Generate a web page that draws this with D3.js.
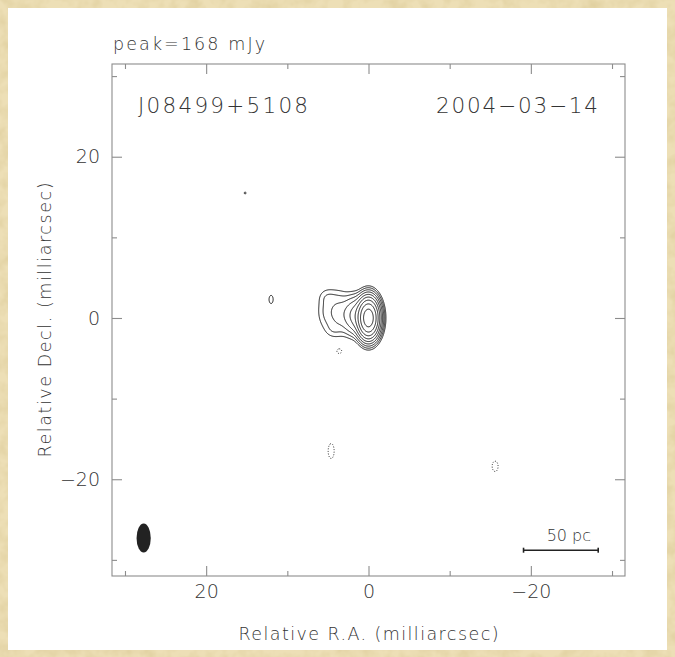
<!DOCTYPE html>
<html>
<head>
<meta charset="utf-8">
<script src="https://cdn.jsdelivr.net/npm/d3@7"></script>
<style>
  body { margin: 0; background: #fff; }
  svg { display: block; }
  text { font-family: "DejaVu Sans", "Liberation Sans", sans-serif; font-weight: 200; fill: #333; }
</style>
</head>
<body>
<svg id="chart" width="675" height="657"></svg>
<script>
// ---- Map annotation ----
const sourceName = "J08499+5108";
const epochLabel = "2004−03−14";
const peakLabel = "peak=168 mJy";
const xAxisTitle = "Relative R.A. (milliarcsec)";
const yAxisTitle = "Relative Decl. (milliarcsec)";

// ---- Axes (milliarcsec) ----
const xExtent = [31.6, -31.6];       // R.A. increases to the left
const yExtent = [31.5, -32.0];
const majorTicks = [20, 0, -20];
const minorTicks = [30, 10, -10, -30];
const tickLabels = ["20", "0", "−20"];

// ---- Contour levels (fraction of peak) ----
const contourLevels = [0.0025, 0.005, 0.01, 0.02, 0.04, 0.08, 0.16, 0.32, 0.64];
const negativeLevels = [-0.0025];

// ---- Brightness components: offset (mas), amplitude (fraction of peak), Gaussian widths (mas) ----
const compX   = [0,    1.6,  3.6,   5.2,    5.0,    4.4,    12.0,   15.2,   4.6,     -15.6,   3.6];
const compY   = [0,    0.3,  0.6,   0.9,    2.6,    -1.5,   2.3,    15.5,   -16.5,   -18.4,   -4.1];
const compAmp = [1.0,  0.05, 0.012, 0.0045, 0.0022, 0.0018, 0.0032, 0.0027, -0.0035, -0.0032, -0.0034];
const compSx  = [0.62, 0.8,  0.9,   0.8,    0.7,    0.6,    0.36,   0.3,    0.45,    0.52,    0.4];
const compSy  = [1.15, 1.2,  1.5,   1.6,    0.6,    0.6,    0.72,   0.3,    1.13,    0.91,    0.4];

// ---- Restoring beam (mas) ----
const beamX = 27.7, beamY = -27.3, beamMajor = 3.6, beamMinor = 1.75;

// ---- Linear scale bar ----
const scaleBarLabel = "50 pc";
const scaleBarFrom = -19.1, scaleBarTo = -28.3, scaleBarDec = -28.8;

// ---------------------------------------------------------------
const W = 675, H = 657;
const plot = { left: 112, right: 625, top: 64, bottom: 576 };
const svg = d3.select("#chart");

const x = d3.scaleLinear().domain(xExtent).range([plot.left, plot.right]);
const y = d3.scaleLinear().domain(yExtent).range([plot.top, plot.bottom]);

// Parchment surround and white sheet
const defs = svg.append("defs");
const f = defs.append("filter").attr("id", "grain")
  .attr("x", 0).attr("y", 0).attr("width", "100%").attr("height", "100%");
f.append("feTurbulence").attr("type", "fractalNoise").attr("baseFrequency", 0.07)
  .attr("numOctaves", 3).attr("seed", 7);
f.append("feColorMatrix").attr("type", "matrix")
  .attr("values", "0 0 0 0 0.70  0 0 0 0 0.58  0 0 0 0 0.30  0 0 0 1.1 -0.38");
defs.append("clipPath").attr("id", "plotClip").append("rect")
  .attr("x", plot.left).attr("y", plot.top)
  .attr("width", plot.right - plot.left).attr("height", plot.bottom - plot.top);

svg.append("rect").attr("width", W).attr("height", H).attr("fill", "#eddfb6");
svg.append("rect").attr("width", W).attr("height", H).attr("filter", "url(#grain)");
svg.append("rect").attr("x", 8).attr("y", 8).attr("width", 659).attr("height", 642).attr("fill", "#fff");

// Brightness grid built from the components
const step = 0.08;
const gx0 = xExtent[1], gy0 = yExtent[1];
const nx = Math.ceil((xExtent[0] - xExtent[1]) / step) + 1;
const ny = Math.ceil((yExtent[0] - yExtent[1]) / step) + 1;
const field = new Float64Array(nx * ny);
compX.forEach((cx, k) => {
  const cy = compY[k], sx = compSx[k], sy = compSy[k], a = compAmp[k];
  const i0 = Math.max(0, Math.floor((cx - 7 * sx - gx0) / step));
  const i1 = Math.min(nx - 1, Math.ceil((cx + 7 * sx - gx0) / step));
  const j0 = Math.max(0, Math.floor((cy - 7 * sy - gy0) / step));
  const j1 = Math.min(ny - 1, Math.ceil((cy + 7 * sy - gy0) / step));
  for (let j = j0; j <= j1; j++) {
    const dy = (gy0 + j * step - cy) / sy;
    for (let i = i0; i <= i1; i++) {
      const dx = (gx0 + i * step - cx) / sx;
      field[j * nx + i] += a * Math.exp(-0.5 * (dx * dx + dy * dy));
    }
  }
});

// Grid coordinates -> sky offsets -> pixels
const gridToPx = d3.geoTransform({
  point(gx, gy) {
    this.stream.point(x(gx0 + (gx - 0.5) * step), y(gy0 + (gy - 0.5) * step));
  }
});
const path = d3.geoPath(gridToPx);

const posContours = d3.contours().size([nx, ny]).thresholds(contourLevels)(field);
const negField = field.map(v => -v);
const negContours = d3.contours().size([nx, ny]).thresholds(negativeLevels.map(v => -v))(negField);

const gMap = svg.append("g").attr("clip-path", "url(#plotClip)");
gMap.selectAll("path.pos").data(posContours).join("path")
  .attr("class", "pos").attr("d", path)
  .attr("fill", "none").attr("stroke", "#1c1c1c").attr("stroke-width", 1)
  .attr("stroke-linejoin", "round");
gMap.selectAll("path.neg").data(negContours).join("path")
  .attr("class", "neg").attr("d", path)
  .attr("fill", "none").attr("stroke", "#2a2a2a").attr("stroke-width", 1)
  .attr("stroke-dasharray", "1,1.6");

// Restoring beam
gMap.append("ellipse")
  .attr("cx", x(beamX)).attr("cy", y(beamY))
  .attr("rx", Math.abs(x(beamMinor / 2) - x(0)))
  .attr("ry", Math.abs(y(beamMajor / 2) - y(0)))
  .attr("fill", "#222");

// Scale bar
const sb = svg.append("g").attr("stroke", "#222").attr("stroke-width", 1.6);
sb.append("line").attr("x1", x(scaleBarFrom)).attr("x2", x(scaleBarTo))
  .attr("y1", y(scaleBarDec)).attr("y2", y(scaleBarDec));
[scaleBarFrom, scaleBarTo].forEach(v => sb.append("line")
  .attr("x1", x(v)).attr("x2", x(v))
  .attr("y1", y(scaleBarDec) - 2.5).attr("y2", y(scaleBarDec) + 2.5));
svg.append("text")
  .attr("x", (x(scaleBarFrom) + x(scaleBarTo)) / 2 + 8).attr("y", y(scaleBarDec) - 9)
  .attr("text-anchor", "middle").attr("font-size", 16).text(scaleBarLabel);

// Frame
svg.append("rect")
  .attr("x", plot.left).attr("y", plot.top)
  .attr("width", plot.right - plot.left).attr("height", plot.bottom - plot.top)
  .attr("fill", "none").attr("stroke", "#8c8c8c").attr("stroke-width", 1.1);

// Inward ticks on all four sides
const fmt = d => tickLabels[majorTicks.indexOf(d)];
function ticks(axisFn, scale, values, len, tx, ty, labelled, pad) {
  const ax = axisFn(scale).tickValues(values).tickSizeInner(-len).tickSizeOuter(0)
    .tickPadding(pad || 0).tickFormat(labelled ? fmt : "");
  const g = svg.append("g").attr("transform", `translate(${tx},${ty})`).call(ax);
  g.select(".domain").remove();
  g.attr("font-family", null);
  g.selectAll("line").attr("stroke", "#8c8c8c").attr("stroke-width", 1.1);
  g.selectAll("text").attr("font-size", 19).attr("fill", "#333");
  return g;
}
ticks(d3.axisBottom, x, majorTicks, 10, 0, plot.bottom, true, 9);
ticks(d3.axisBottom, x, minorTicks, 5, 0, plot.bottom, false);
ticks(d3.axisTop, x, majorTicks, 10, 0, plot.top, false);
ticks(d3.axisTop, x, minorTicks, 5, 0, plot.top, false);
ticks(d3.axisLeft, y, majorTicks, 10, plot.left, 0, true, 12);
ticks(d3.axisLeft, y, minorTicks, 5, plot.left, 0, false);
ticks(d3.axisRight, y, majorTicks, 10, plot.right, 0, false);
ticks(d3.axisRight, y, minorTicks, 5, plot.right, 0, false);

// Labels
svg.append("text").attr("x", 113).attr("y", 49.5).attr("font-size", 17.5)
  .attr("textLength", 152).attr("lengthAdjust", "spacing").text(peakLabel);
svg.append("text").attr("x", 138).attr("y", 113).attr("font-size", 21.5)
  .attr("textLength", 170).attr("lengthAdjust", "spacing").text(sourceName);
svg.append("text").attr("x", 436).attr("y", 113).attr("font-size", 21.5)
  .attr("textLength", 162).attr("lengthAdjust", "spacing").text(epochLabel);
svg.append("text").attr("x", (plot.left + plot.right) / 2).attr("y", 640)
  .attr("text-anchor", "middle").attr("font-size", 17.5)
  .attr("textLength", 260).attr("lengthAdjust", "spacing").text(xAxisTitle);
svg.append("text").attr("transform", `translate(51,${(plot.top + plot.bottom) / 2}) rotate(-90)`)
  .attr("text-anchor", "middle").attr("font-size", 17.5)
  .attr("textLength", 275).attr("lengthAdjust", "spacing").text(yAxisTitle);
</script>
</body>
</html>
